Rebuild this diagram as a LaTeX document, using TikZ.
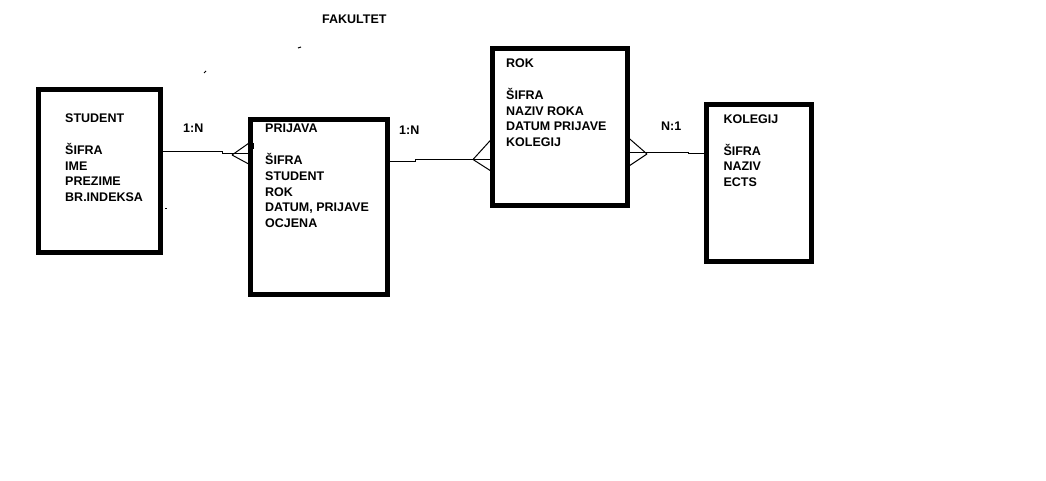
\documentclass[tikz,border=0pt]{standalone}
\usepackage{fontspec}
\setmainfont{Liberation Sans}
\begin{document}
\begin{tikzpicture}[x=1pt,y=-1pt,
  entity/.style={draw,line width=5pt,inner sep=0pt,outer sep=0pt,anchor=north west},
  txt/.style={font=\bfseries\fontsize{12.5}{15.8}\selectfont,align=left,anchor=base west,inner sep=0pt},
  conn/.style={line width=1pt},
  speck/.style={line width=1pt}]
\useasboundingbox[fill=white] (0,0) rectangle (1046,481);
% entities
\node[entity,minimum width=122pt,minimum height=163pt] (student) at (38.5,89.5) {};
\node[entity,minimum width=137pt,minimum height=175pt] (prijava) at (250.5,119.5) {};
\node[entity,minimum width=135pt,minimum height=156.5pt] (rok) at (492.5,49) {};
\node[entity,minimum width=105pt,minimum height=156.5pt] (kolegij) at (706,104.5) {};
% texts (anchored at the baseline of the last line)
\node[txt] (tstudent) at (65,201.7) {STUDENT\\\mbox{}\\ŠIFRA\\IME\\PREZIME\\BR.INDEKSA};
\node[txt] (tprijava) at (265,227.7) {PRIJAVA\\\mbox{}\\ŠIFRA\\STUDENT\\ROK\\DATUM, PRIJAVE\\OCJENA};
\node[txt] (trok) at (506,146.7) {ROK\\\mbox{}\\ŠIFRA\\NAZIV ROKA\\DATUM PRIJAVE\\KOLEGIJ};
\node[txt] (tkolegij) at (723.3,186.7) {KOLEGIJ\\\mbox{}\\ŠIFRA\\NAZIV\\ECTS};
\node[txt] (fakultet) at (322,23.5) {FAKULTET};
\node[txt] (c1) at (183,132.5) {1:N};
\node[txt] (c2) at (399,134.5) {1:N};
\node[txt] (c3) at (661,130.5) {N:1};
% connector STUDENT - PRIJAVA
\coordinate (a1) at (232,155);
\draw[conn] (student.east |- 0,152) -- (222,152) -- (222,154) -- (prijava.west |- 0,154);
\draw[conn] (a1) -- (prijava.west |- 0,142);
\draw[conn] (a1) -- (prijava.west |- 0,165);
\fill (250,143) rectangle (254,149);
\fill (249,159) rectangle (253,166);
% connector PRIJAVA - ROK
\coordinate (a2) at (473,159.5);
\draw[conn] (prijava.east |- 0,161.5) -- (415,161.5) -- (415,159.5) -- (rok.west |- 0,159.5);
\draw[conn] (a2) -- (rok.west |- 0,138);
\draw[conn] (a2) -- (rok.west |- 0,172);
% connector ROK - KOLEGIJ
\coordinate (a3) at (647,154);
\draw[conn] (rok.east |- 0,152.7) -- (688,152.7) -- (688,154) -- (kolegij.west |- 0,154);
\draw[conn] (rok.east |- 0,137) -- (a3);
\draw[conn] (rok.east |- 0,167) -- (a3);
% specks
\draw[speck] (204,73) -- (206,71);
\draw[speck] (298,48) -- (301,47);
\draw[speck] (165,208) -- (167,208);
\end{tikzpicture}
\end{document}
